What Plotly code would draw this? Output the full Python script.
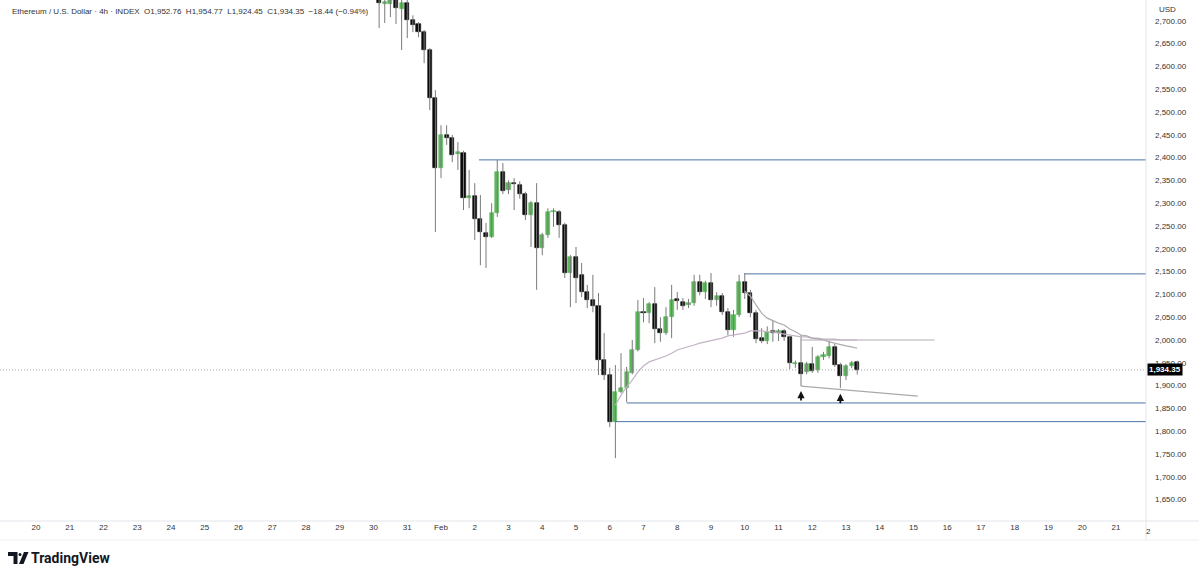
import plotly.graph_objects as go
import pandas as pd

# ---- data (ETH/USD 4h candles) ----
start_time = "2026-01-30 04:00"
open_ = [2758, 2737, 2737, 2750, 2726, 2740, 2702, 2693, 2675, 2636,
         2531, 2377, 2450, 2443, 2408, 2410, 2311, 2316, 2265, 2235,
         2226, 2279, 2368, 2329, 2344, 2340, 2320, 2274, 2300, 2202,
         2230, 2281, 2281, 2252, 2147, 2182, 2143, 2105, 2088, 2075,
         1956, 1923, 1820, 1886, 1895, 1928, 1978, 2061, 2059, 2079,
         2024, 2015, 2050, 2090, 2083, 2077, 2081, 2127, 2105, 2125,
         2088, 2096, 2061, 2022, 2055, 2127, 2103, 2059, 2004, 1998,
         2020, 2015, 2020, 2007, 1948, 1950, 1930, 1947, 1934, 1963,
         1965, 1985, 1945, 1921, 1943, 1952.76]
high = [2780, 2770, 2765, 2760, 2748, 2748, 2712, 2697, 2680, 2640,
        2548, 2471, 2471, 2450, 2434, 2415, 2373, 2344, 2318, 2257,
        2300, 2395, 2388, 2350, 2355, 2348, 2325, 2305, 2344, 2235,
        2289, 2289, 2285, 2257, 2186, 2204, 2169, 2121, 2143, 2103,
        2015, 1939, 1945, 1971, 1941, 2000, 2088, 2092, 2083, 2116,
        2050, 2072, 2121, 2105, 2092, 2090, 2143, 2143, 2130, 2147,
        2105, 2103, 2070, 2066, 2143, 2147, 2110, 2066, 2026, 2030,
        2044, 2024, 2024, 2009, 1955, 2011, 1952, 1985, 1967, 1974,
        1998, 1991, 1950, 1947, 1954, 1954.77]
low = [2684, 2695, 2708, 2693, 2636, 2662, 2675, 2664, 2607, 2504,
       2237, 2355, 2428, 2390, 2373, 2285, 2289, 2219, 2164, 2158,
       2224, 2270, 2320, 2320, 2285, 2310, 2263, 2204, 2110, 2186,
       2224, 2248, 2224, 2136, 2072, 2081, 2094, 2070, 2061, 1923,
       1912, 1809, 1741, 1884, 1864, 1925, 1975, 2039, 2037, 1993,
       1996, 2011, 2004, 2066, 2066, 2070, 2075, 2098, 2090, 2072,
       2075, 2055, 2011, 2007, 2050, 2090, 2050, 1993, 1993, 1991,
       1996, 1998, 1998, 1936, 1939, 1899, 1925, 1928, 1928, 1956,
       1960, 1941, 1895, 1912, 1938, 1924.45]
close = [2740, 2741, 2750, 2728, 2739, 2702, 2691, 2675, 2636, 2531,
         2377, 2450, 2443, 2406, 2412, 2311, 2316, 2265, 2237, 2226,
         2279, 2368, 2327, 2344, 2342, 2320, 2274, 2300, 2202, 2230,
         2281, 2283, 2252, 2147, 2182, 2136, 2105, 2088, 2075, 1956,
         1923, 1820, 1886, 1895, 1930, 1978, 2061, 2059, 2079, 2024,
         2015, 2050, 2088, 2086, 2075, 2081, 2127, 2105, 2125, 2088,
         2096, 2061, 2022, 2055, 2127, 2103, 2059, 2002, 1998, 2018,
         2015, 2020, 2007, 1950, 1950, 1925, 1947, 1932, 1963, 1967,
         1985, 1945, 1921, 1943, 1950, 1934.35]

# anchored VWAP from the Feb 6 low (starts at candle index 42)
vwap_low_start = 42
vwap_low = [1857, 1879, 1897, 1912, 1930, 1943, 1952, 1956, 1961, 1965,
            1971, 1978, 1982, 1985, 1989, 1993, 1996, 1998, 2002, 2004,
            2009, 2011, 2013, 2015, 2020, 2020, 2020, 2018, 2018, 2015,
            2013, 2011, 2009, 2007, 2007, 2004, 2004, 2002, 2002, 2002,
            2000, 2000, 2000, 2000]
# anchored VWAP from the Feb 10 high (starts at candle index 65)
vwap_high_start = 65
vwap_high = [2107, 2096, 2077, 2059, 2048, 2042, 2037, 2033, 2024, 2018,
             2011, 2009, 2004, 2002, 2000, 1996, 1993, 1989, 1987, 1985, 1982]

# horizontal levels: (start time, price)
levels = [("2026-02-02 03:00", 2395), ("2026-02-10 00:00", 2145),
          ("2026-02-06 12:00", 1862), ("2026-02-06 04:00", 1821)]
level_2000 = ("2026-02-11 16:00", "2026-02-15 15:00", 2000)
support_line = ("2026-02-11 16:00", 1899, "2026-02-15 03:00", 1877)
arrow_points = [("2026-02-11 16:00", 1888), ("2026-02-12 20:00", 1882)]

last_price = 1934.35
header = ("Ethereum / U.S. Dollar · 4h · INDEX  O1,952.76  H1,954.77  "
          "L1,924.45  C1,934.35  −18.44 (−0.94%)")

x_start, x_end = "2026-01-18 22:24", "2026-02-21 21:20"
y_min, y_max = 1603.1, 2745.6
tick_days = pd.date_range("2026-01-20", "2026-02-21", freq="D")
tick_text = ["Feb" if d.day == 1 and d.month == 2 else str(d.day) for d in tick_days]
y_ticks = list(range(1650, 2701, 50))

# ---- build ----
times = pd.date_range(start_time, periods=len(close), freq="4h")
GREEN = "#5cb85c"
BLACK = "#0c0c0c"
LEVEL = "#4d74a8"

fig = go.Figure()

# wicks
wx, wy = [], []
for t, h, l in zip(times, high, low):
    wx += [t, t, None]
    wy += [l, h, None]
fig.add_trace(go.Scatter(x=wx, y=wy, mode="lines",
                         line=dict(color="#7a7a7a", width=1), hoverinfo="skip"))

# bodies
base = [min(o, c) for o, c in zip(open_, close)]
size = [max(abs(c - o), 1.5) for o, c in zip(open_, close)]
colors = [GREEN if c >= o else BLACK for o, c in zip(open_, close)]
bar_w = 4 * 3600 * 1000 * 0.72
fig.add_trace(go.Bar(x=times, y=size, base=base, width=bar_w,
                     marker=dict(color=colors, line=dict(color=colors, width=0.6))))

# VWAP lines
fig.add_trace(go.Scatter(x=times[vwap_low_start:vwap_low_start + len(vwap_low)], y=vwap_low,
                         mode="lines", line=dict(color="#c4b3c6", width=1.2)))
fig.add_trace(go.Scatter(x=times[vwap_high_start:vwap_high_start + len(vwap_high)], y=vwap_high,
                         mode="lines", line=dict(color="#b0aab2", width=1.2)))

# horizontal levels
for t0, p in levels:
    fig.add_trace(go.Scatter(x=[t0, x_end], y=[p, p], mode="lines",
                             line=dict(color=LEVEL, width=1)))
fig.add_trace(go.Scatter(x=[level_2000[0], level_2000[1]], y=[level_2000[2]] * 2,
                         mode="lines", line=dict(color="#b3adb5", width=1.2)))
fig.add_trace(go.Scatter(x=[support_line[0], support_line[2]], y=[support_line[1], support_line[3]],
                         mode="lines", line=dict(color="#a9a9a9", width=1.2)))
# last price dotted line
fig.add_trace(go.Scatter(x=[x_start, x_end], y=[last_price] * 2, mode="lines",
                         line=dict(color="#8a8a8a", width=0.8, dash="1px,2px")))

# arrows
for t, p in arrow_points:
    fig.add_annotation(x=t, y=p, ax=0, ay=11, showarrow=True, arrowhead=2,
                       arrowsize=0.8, arrowwidth=1.8, arrowcolor="#111", text="")

fig.add_annotation(xref="paper", yref="paper", x=0.0087, y=1 - 12 / 521, xanchor="left",
                   yanchor="middle", text=header, showarrow=False,
                   font=dict(family="Liberation Sans", size=8, color="#333333"))
# last price label
fig.add_annotation(xref="paper", yref="y", x=1147 / 1146, y=last_price, xanchor="left",
                   yanchor="middle", text="<b>1,934.35</b>", showarrow=False,
                   bgcolor="#000000", borderpad=1,
                   font=dict(family="Liberation Sans", size=8, color="#ffffff"))
fig.add_annotation(xref="paper", yref="paper", x=1157 / 1146, y=1 - 10 / 521, xanchor="left",
                   yanchor="middle", text="USD", showarrow=False, bgcolor="#ffffff",
                   font=dict(family="Liberation Sans", size=8, color="#333"))
fig.add_annotation(xref="paper", yref="paper", x=1148 / 1146, y=-10 / 521, xanchor="center",
                   yanchor="middle", text="2", showarrow=False,
                   font=dict(family="Liberation Sans", size=8, color="#333"))
# TradingView logo
fig.add_annotation(xref="paper", yref="paper", x=29 / 1146, y=-37 / 521, xanchor="left",
                   yanchor="middle", text="<b>TradingView</b>", showarrow=False,
                   font=dict(family="Roboto", size=14, color="#131722"))

def px(x):
    return x / 1146

def py(y):
    return (521 - y) / 521

logo_col = "#131722"
fig.add_shape(type="path", xref="paper", yref="paper", fillcolor=logo_col, line_width=0,
              path=f"M{px(8)},{py(552)} L{px(17.5)},{py(552)} L{px(17.5)},{py(564)} "
                   f"L{px(13.5)},{py(564)} L{px(13.5)},{py(556)} L{px(8)},{py(556)} Z")
fig.add_shape(type="circle", xref="paper", yref="paper", fillcolor=logo_col, line_width=0,
              x0=px(18.5), x1=px(21.5), y0=py(556), y1=py(553))
fig.add_shape(type="path", xref="paper", yref="paper", fillcolor=logo_col, line_width=0,
              path=f"M{px(24)},{py(552)} L{px(28.5)},{py(552)} L{px(23.5)},{py(564)} "
                   f"L{px(19)},{py(564)} Z")
# axis borders
fig.add_shape(type="line", xref="paper", yref="paper", x0=0, x1=1199 / 1146, y0=0, y1=0,
              line=dict(color="#e3e5ea", width=1))
fig.add_shape(type="line", xref="paper", yref="paper", x0=0, x1=1199 / 1146,
              y0=py(540), y1=py(540), line=dict(color="#eef0f3", width=1))
fig.add_shape(type="line", xref="paper", yref="paper", x0=1, x1=1, y0=py(540), y1=1,
              line=dict(color="#e3e5ea", width=1))

fig.update_layout(
    width=1199, height=578, showlegend=False, bargap=0,
    margin=dict(l=0, r=53, t=0, b=57),
    paper_bgcolor="#ffffff", plot_bgcolor="#ffffff",
    font=dict(family="Liberation Sans", size=8, color="#333333"),
    xaxis=dict(type="date", range=[x_start, x_end], tickvals=tick_days, ticktext=tick_text,
               showgrid=False, zeroline=False, showline=False, ticks="",
               tickfont=dict(size=8, color="#333"), fixedrange=True),
    yaxis=dict(range=[y_min, y_max], side="right", tickvals=y_ticks, tickformat=",.2f",
               showgrid=False, zeroline=False, showline=False, ticks="",
               ticklabelstandoff=8, tickfont=dict(size=8, color="#333"), fixedrange=True),
)

fig.write_html("out.html", config={"displayModeBar": False},
               post_script="document.body.style.margin='0';")
